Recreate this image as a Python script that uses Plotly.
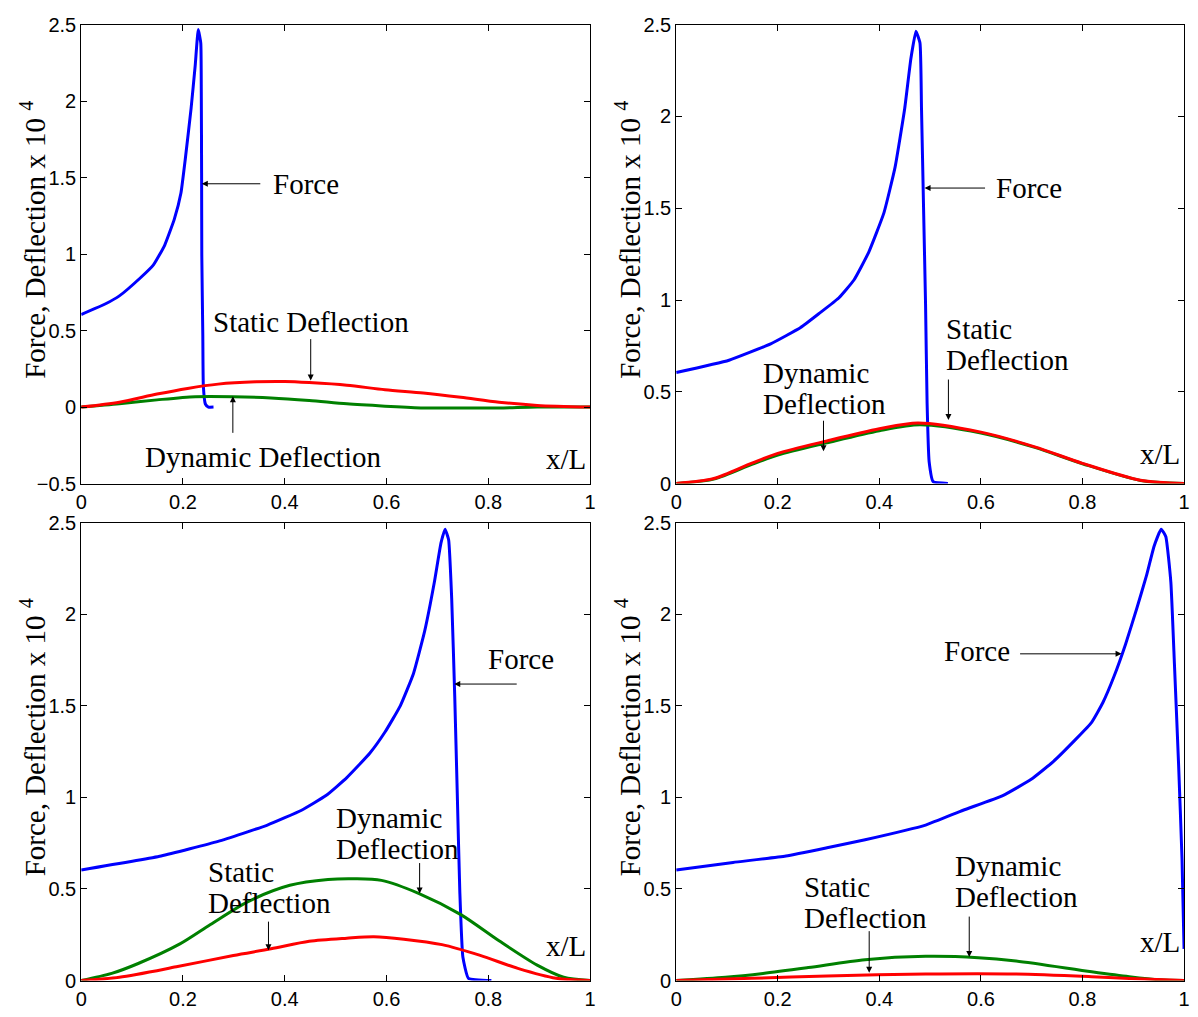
import plotly.graph_objects as go

# ---- Panel (a): load near x/L = 0.23 ----
a_force_x = [0, 0.049, 0.075, 0.116, 0.142, 0.164, 0.183, 0.196, 0.205, 0.216, 0.224, 0.230,
             0.235, 0.236, 0.2366, 0.237, 0.239, 0.240, 0.244, 0.250, 0.260]
a_force_y = [0.605, 0.677, 0.727, 0.844, 0.93, 1.058, 1.229, 1.40, 1.635, 1.955, 2.233, 2.468,
             2.38, 2.06, 1.53, 0.99, 0.46, 0.14, 0.02, 0.0, 0.0]
a_static_x = [0, 0.075, 0.149, 0.209, 0.269, 0.343, 0.40, 0.448, 0.522, 0.597, 0.672, 0.746, 0.821, 0.896, 1.0]
a_static_y = [0, 0.032, 0.085, 0.122, 0.150, 0.165, 0.167, 0.160, 0.143, 0.113, 0.092, 0.064, 0.032, 0.011, 0]
a_dyn_x = [0, 0.075, 0.149, 0.224, 0.299, 0.373, 0.448, 0.522, 0.597, 0.672, 0.746, 0.821, 0.896, 1.0]
a_dyn_y = [0, 0.021, 0.047, 0.068, 0.068, 0.060, 0.043, 0.021, 0.006, -0.006, -0.006, -0.006, 0.0, 0]

# ---- Panel (b): load near x/L = 0.47 ----
b_force_x = [0, 0.104, 0.186, 0.245, 0.283, 0.32, 0.35, 0.379, 0.409, 0.431, 0.45, 0.462, 0.472,
             0.480, 0.483, 0.487, 0.491, 0.494, 0.498, 0.506, 0.535]
b_force_y = [0.605, 0.672, 0.761, 0.85, 0.93, 1.011, 1.109, 1.26, 1.475, 1.724, 2.045, 2.313, 2.464,
             2.40, 2.045, 1.51, 0.975, 0.44, 0.12, 0.01, 0.0]
b_static_x = [0, 0.074, 0.149, 0.2, 0.297, 0.4, 0.476, 0.6, 0.706, 0.8, 0.914, 1.0]
b_static_y = [0, 0.027, 0.111, 0.164, 0.232, 0.298, 0.330, 0.280, 0.200, 0.110, 0.018, 0]
b_dyn_x = [0, 0.074, 0.149, 0.2, 0.297, 0.4, 0.48, 0.6, 0.706, 0.8, 0.914, 1.0]
b_dyn_y = [0, 0.024, 0.104, 0.155, 0.222, 0.288, 0.320, 0.275, 0.197, 0.108, 0.017, 0]

# ---- Panel (c): load near x/L = 0.72 ----
c_force_x = [0, 0.157, 0.269, 0.366, 0.433, 0.481, 0.522, 0.567, 0.597, 0.627, 0.653, 0.675, 0.694,
             0.707, 0.715, 0.722, 0.728, 0.734, 0.739, 0.744, 0.750, 0.761, 0.806]
c_force_y = [0.604, 0.68, 0.76, 0.849, 0.93, 1.01, 1.108, 1.241, 1.357, 1.50, 1.677, 1.909, 2.176,
             2.39, 2.465, 2.407, 2.087, 1.553, 1.018, 0.484, 0.128, 0.012, 0.0]
c_static_x = [0, 0.075, 0.187, 0.299, 0.373, 0.448, 0.522, 0.575, 0.634, 0.709, 0.784, 0.858, 0.933, 1.0]
c_static_y = [0, 0.018, 0.075, 0.137, 0.173, 0.214, 0.231, 0.239, 0.226, 0.196, 0.137, 0.066, 0.012, 0]
c_dyn_x = [0, 0.06, 0.112, 0.194, 0.254, 0.328, 0.41, 0.485, 0.537, 0.59, 0.664, 0.746, 0.821, 0.896, 0.948, 1.0]
c_dyn_y = [0, 0.039, 0.093, 0.20, 0.306, 0.431, 0.52, 0.552, 0.556, 0.547, 0.475, 0.36, 0.217, 0.084, 0.018, 0]

# ---- Panel (d): load near x/L = 0.95 ----
d_force_x = [0, 0.112, 0.216, 0.297, 0.372, 0.491, 0.565, 0.643, 0.699, 0.743, 0.788, 0.818, 0.84,
             0.862, 0.885, 0.907, 0.926, 0.941, 0.955, 0.964, 0.974, 0.981, 0.989, 0.996, 1.0]
d_force_y = [0.604, 0.645, 0.68, 0.725, 0.769, 0.849, 0.93, 1.01, 1.099, 1.197, 1.321, 1.41, 1.517,
             1.66, 1.838, 2.033, 2.211, 2.372, 2.465, 2.425, 2.176, 1.731, 1.197, 0.662, 0.173]
d_static_x = [0, 0.149, 0.297, 0.491, 0.669, 0.818, 0.892, 1.0]
d_static_y = [0, 0.012, 0.025, 0.036, 0.036, 0.021, 0.011, 0]
d_dyn_x = [0, 0.097, 0.171, 0.26, 0.372, 0.491, 0.595, 0.669, 0.818, 0.892, 0.952, 1.0]
d_dyn_y = [0, 0.018, 0.039, 0.071, 0.114, 0.132, 0.125, 0.107, 0.048, 0.021, 0.004, 0]

x_ticks = [0, 0.2, 0.4, 0.6, 0.8, 1]
x_tick_labels = ["0", "0.2", "0.4", "0.6", "0.8", "1"]
y_ticks_a = [-0.5, 0, 0.5, 1, 1.5, 2, 2.5]
y_tick_labels_a = ["\u22120.5", "0", "0.5", "1", "1.5", "2", "2.5"]
y_ticks = [0, 0.5, 1, 1.5, 2, 2.5]
y_tick_labels = ["0", "0.5", "1", "1.5", "2", "2.5"]

BLUE = "rgb(0,0,255)"
RED = "rgb(255,0,0)"
GREEN = "rgb(0,128,0)"
SERIF = "Liberation Serif"
SANS = "Liberation Sans"

panels = [
    (a_force_x, a_force_y, a_static_x, a_static_y, a_dyn_x, a_dyn_y),
    (b_force_x, b_force_y, b_static_x, b_static_y, b_dyn_x, b_dyn_y),
    (c_force_x, c_force_y, c_static_x, c_static_y, c_dyn_x, c_dyn_y),
    (d_force_x, d_force_y, d_static_x, d_static_y, d_dyn_x, d_dyn_y),
]

# axis domains (paper fractions) for the 2x2 grid
x_domains = [[0.0634, 0.4925], [0.5651, 0.9933], [0.0634, 0.4925], [0.5651, 0.9933]]
y_domains = [[0.5251, 0.9862], [0.5251, 0.9862], [0.0256, 0.4857], [0.0256, 0.4857]]

fig = go.Figure()
for i, (fx, fy, sx, sy, dx, dy) in enumerate(panels):
    xa = "x" if i == 0 else f"x{i+1}"
    ya = "y" if i == 0 else f"y{i+1}"
    fig.add_trace(go.Scatter(x=fx, y=fy, mode="lines",
                             line=dict(color=BLUE, width=3, shape="spline", smoothing=0.4),
                             xaxis=xa, yaxis=ya, showlegend=False))
    fig.add_trace(go.Scatter(x=dx, y=dy, mode="lines",
                             line=dict(color=GREEN, width=3, shape="spline", smoothing=0.8),
                             xaxis=xa, yaxis=ya, showlegend=False))
    fig.add_trace(go.Scatter(x=sx, y=sy, mode="lines",
                             line=dict(color=RED, width=3, shape="spline", smoothing=0.8),
                             xaxis=xa, yaxis=ya, showlegend=False))

axis_style = dict(showline=True, linecolor="black", linewidth=1, mirror="ticks",
                  ticks="inside", ticklen=6, tickcolor="black", showgrid=False,
                  zeroline=False, tickfont=dict(family=SANS, size=20, color="black"))

layout = {}
for i in range(4):
    xk = "xaxis" if i == 0 else f"xaxis{i+1}"
    yk = "yaxis" if i == 0 else f"yaxis{i+1}"
    ya_anchor = "y" if i == 0 else f"y{i+1}"
    xa_anchor = "x" if i == 0 else f"x{i+1}"
    layout[xk] = dict(domain=x_domains[i], anchor=ya_anchor, range=[0, 1],
                      tickvals=x_ticks, ticktext=x_tick_labels, **axis_style)
    if i == 0:
        layout[yk] = dict(domain=y_domains[i], anchor=xa_anchor, range=[-0.5, 2.5],
                          tickvals=y_ticks_a, ticktext=y_tick_labels_a, **axis_style)
    else:
        layout[yk] = dict(domain=y_domains[i], anchor=xa_anchor, range=[0, 2.5],
                          tickvals=y_ticks, ticktext=y_tick_labels, **axis_style)

fig.update_layout(width=1198, height=1017, margin=dict(l=0, r=0, t=0, b=0),
                  plot_bgcolor="white", paper_bgcolor="white", **layout)

ann = []
txt_font = dict(family=SERIF, size=29, color="black")
LINE_GAP = 31  # pixel spacing between the two lines of a stacked label


def label(ref, x, y, text, xanchor="left"):
    lines = text.split("\n")
    n = len(lines)
    for k, line in enumerate(lines):
        shift = ((n - 1) / 2 - k) * LINE_GAP
        ann.append(dict(xref="x" + ref, yref="y" + ref, x=x, y=y, text=line, showarrow=False,
                        xanchor=xanchor, yanchor="middle", yshift=shift, font=txt_font))


def arrow(ref, x, y, ax, ay):
    ann.append(dict(xref="x" + ref, yref="y" + ref, x=x, y=y, text="", showarrow=True,
                    ax=ax, ay=ay, arrowhead=2, arrowsize=1.2, arrowwidth=1,
                    arrowcolor="black"))


# panel (a)
label("", 0.3735, 1.46, "Force")
arrow("", 0.237, 1.46, 60, 0)
label("", 0.451, 0.557, "Static Deflection", "center")
arrow("", 0.451, 0.173, 0, -43)
label("", 0.358, -0.326, "Dynamic Deflection", "center")
arrow("", 0.298, 0.07, 0, 38)
label("", 0.995, -0.339, "x/L", "right")

# panel (b)
label("2", 0.626, 1.61, "Force")
arrow("2", 0.489, 1.61, 62, 0)
label("2", 0.528, 0.76, "Static\nDeflection")
arrow("2", 0.536, 0.346, 0, -42)
label("2", 0.166, 0.517, "Dynamic\nDeflection")
arrow("2", 0.29, 0.176, 0, -32)
label("2", 0.995, 0.16, "x/L", "right")

# panel (c)
label("3", 0.796, 1.757, "Force")
arrow("3", 0.733, 1.619, 64, 0)
label("3", 0.496, 0.804, "Dynamic\nDeflection")
arrow("3", 0.665, 0.475, 0, -32)
label("3", 0.245, 0.51, "Static\nDeflection")
arrow("3", 0.368, 0.166, 0, -30)
label("3", 0.995, 0.187, "x/L", "right")

# panel (d)
label("4", 0.524, 1.80, "Force")
arrow("4", 0.877, 1.784, -103, 0)
label("4", 0.546, 0.542, "Dynamic\nDeflection")
arrow("4", 0.577, 0.128, 0, -42)
label("4", 0.248, 0.425, "Static\nDeflection")
arrow("4", 0.38, 0.043, 0, -43)
label("4", 0.995, 0.208, "x/L", "right")

# rotated y-axis titles
ytitle = "Force, Deflection x 10 <sup>4</sup>"
for xp, yd in [(27, y_domains[0]), (628, y_domains[1]), (27, y_domains[2]), (628, y_domains[3])]:
    ann.append(dict(xref="paper", yref="paper", x=xp / 1198, y=(yd[0] + yd[1]) / 2,
                    text=ytitle, showarrow=False, textangle=-90, xanchor="center",
                    yanchor="middle", yshift=14, font=txt_font))

fig.update_layout(annotations=ann)
fig.write_html("out.html")
